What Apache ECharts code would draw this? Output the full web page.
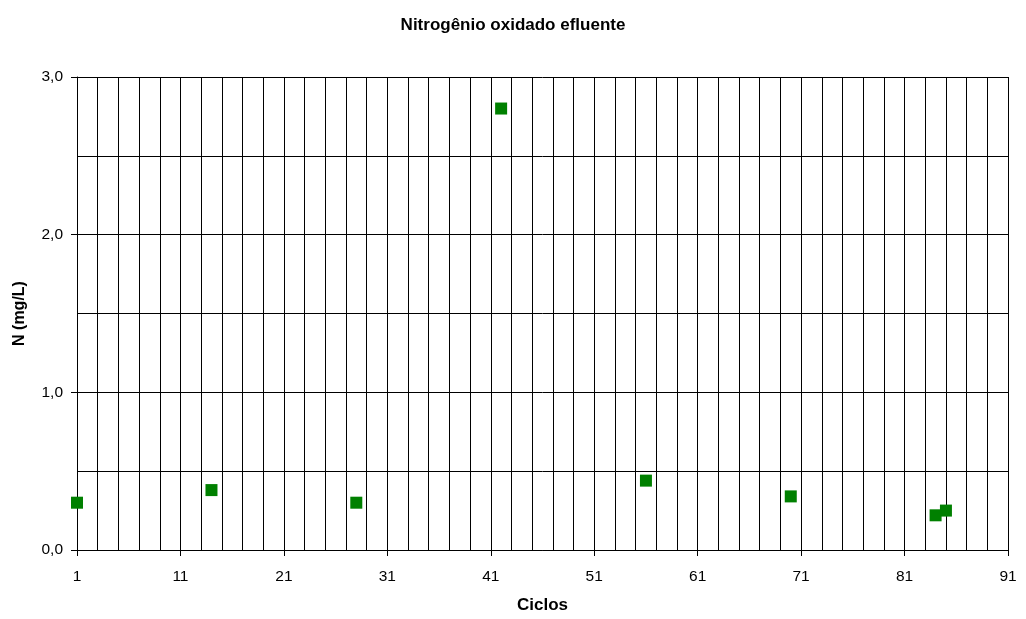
<!DOCTYPE html>
<html>
<head>
<meta charset="utf-8">
<script src="https://cdn.jsdelivr.net/npm/echarts@6/dist/echarts.min.js"></script>
<style>
  html, body { margin: 0; padding: 0; background: #fff; }
  #chart { width: 1026px; height: 619px; }
</style>
</head>
<body>
<div id="chart"></div>
<script>
// Cycle numbers and oxidised nitrogen in the effluent (mg/L)
const ciclos = [1, 14, 28, 42, 56, 70, 84, 85];
const nitrogenio = [0.30, 0.38, 0.30, 2.80, 0.44, 0.34, 0.22, 0.25];

const titulo = 'Nitrogênio oxidado efluente';
const nomeX = 'Ciclos';
const nomeY = 'N (mg/L)';

const FONT = '"Liberation Sans", Arial, sans-serif';
const gridLine = { color: '#000', width: 1 };
const labelFont = { fontFamily: FONT, fontSize: 15.5, color: '#000' };

const chart = echarts.init(document.getElementById('chart'));
chart.setOption({
  animation: false,
  backgroundColor: '#fff',
  title: {
    text: titulo,
    left: 'center',
    top: 12,
    textStyle: { fontFamily: FONT, fontSize: 17, fontWeight: 'bold', color: '#000' }
  },
  grid: { left: 77, right: 18, top: 77, bottom: 68, containLabel: false },
  xAxis: {
    type: 'value',
    min: 1,
    max: 91,
    interval: 10,
    name: nomeX,
    nameLocation: 'middle',
    nameGap: 47,
    nameTextStyle: { fontFamily: FONT, fontSize: 17, fontWeight: 'bold', color: '#000' },
    axisLine: { show: true, onZero: false, lineStyle: { color: '#000', width: 1 } },
    axisTick: { show: true, length: 6, inside: false, lineStyle: { color: '#000' } },
    axisLabel: Object.assign({ margin: 19 }, labelFont),
    splitLine: { show: true, lineStyle: gridLine },
    minorTick: { show: false, splitNumber: 5 },
    minorSplitLine: { show: true, lineStyle: gridLine }
  },
  yAxis: {
    type: 'value',
    min: 0,
    max: 3,
    interval: 1,
    name: nomeY,
    nameLocation: 'middle',
    nameGap: 49,
    nameRotate: 90,
    nameTextStyle: { fontFamily: FONT, fontSize: 16, fontWeight: 'bold', color: '#000' },
    axisLine: { show: true, onZero: false, lineStyle: { color: '#000', width: 1 } },
    axisTick: { show: true, length: 6, inside: false, lineStyle: { color: '#000' } },
    axisLabel: Object.assign({
      margin: 14,
      formatter: v => v.toFixed(1).replace('.', ',')
    }, labelFont),
    splitLine: { show: true, lineStyle: gridLine },
    minorTick: { show: false, splitNumber: 2 },
    minorSplitLine: { show: true, lineStyle: gridLine }
  },
  series: [{
    type: 'scatter',
    data: ciclos.map((c, i) => [c, nitrogenio[i]]),
    symbol: 'rect',
    symbolSize: 12,
    clip: false,
    itemStyle: { color: '#008000', opacity: 1 }
  }]
});
</script>
</body>
</html>
